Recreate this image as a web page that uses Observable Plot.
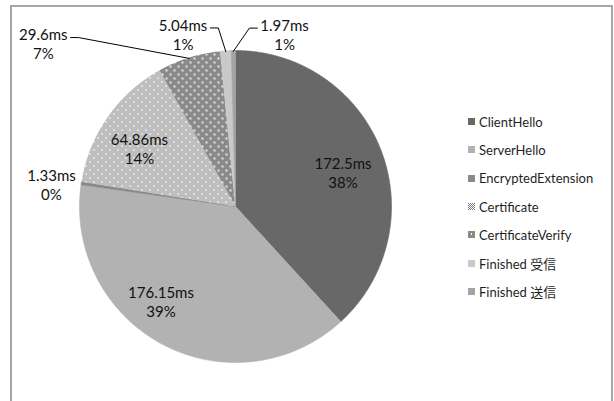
<!DOCTYPE html>
<html><head><meta charset="utf-8">
<script src="https://cdn.jsdelivr.net/npm/d3@7"></script>
<script src="https://cdn.jsdelivr.net/npm/@observablehq/plot@0.6"></script>
<style>
html,body{margin:0;padding:0;background:#fff;overflow:hidden;}
#wrap{position:relative;width:614px;height:401px;font-family:Lato,"Noto Sans CJK JP",sans-serif;}
#chart{position:absolute;left:0;top:0;}
#frame{position:absolute;left:10px;top:5px;width:603px;height:600px;box-sizing:border-box;border:2px solid #a6a6a6;pointer-events:none;}
#legend{position:absolute;left:468px;top:107.5px;}
.row{display:flex;align-items:center;height:28.33px;font-size:13px;color:#1f1f1f;white-space:nowrap;}
.row svg{margin-right:4px;flex:none;}
</style></head>
<body>
<svg width="0" height="0" style="position:absolute">
<defs>
 <pattern id="pChk" width="2" height="2" patternUnits="userSpaceOnUse">
   <rect width="2" height="2" fill="#fff"/><rect width="1" height="1" fill="#7c7c7c"/><rect x="1" y="1" width="1" height="1" fill="#7c7c7c"/>
 </pattern>
 <pattern id="pCert" width="8" height="8" patternUnits="userSpaceOnUse">
   <rect width="8" height="8" fill="url(#pChk)"/>
   <rect x="1" y="1" width="2" height="1" fill="#fff"/><rect x="5" y="5" width="2" height="1" fill="#fff"/>
 </pattern>
 <pattern id="pVerify" width="8" height="8" patternUnits="userSpaceOnUse">
   <rect width="8" height="8" fill="#8a8a8a"/>
   <rect x="1" y="1" width="2" height="2" fill="#e6e6e6"/><rect x="5" y="5" width="2" height="2" fill="#e6e6e6"/>
 </pattern>
</defs></svg>
<div id="wrap"><div id="chart"></div><div id="legend"></div><div id="frame"></div></div>
<script>
// ---- data ----
const categories = ["ClientHello","ServerHello","EncryptedExtension","Certificate","CertificateVerify","Finished 受信","Finished 送信"];
const values = [172.5, 176.15, 1.33, 64.86, 29.6, 5.04, 1.97];
const percentLabels = ["38%","39%","0%","14%","7%","1%","1%"];
const valueLabels = values.map(v => `${v}ms`);

// ---- styling / layout ----
const fills   = ["#686868","#b2b2b2","#8a8a8a","url(#pCert)","url(#pVerify)","#c9c9c9","#a3a3a3"];
const strokes = ["#686868","#b2b2b2","#8a8a8a","none","none","#c9c9c9","#a3a3a3"];
const cx = 235, cy = 206, R = 156;
const FONT = 'Lato, "Noto Sans CJK JP", sans-serif';
// label placement: [angle (deg, clockwise from 12 o'clock), distance in radii]
const labelAt = {
  "ClientHello": [72.2, 0.724],
  "ServerHello": [218.1, 0.774],
  "EncryptedExtension": [276.8, 1.188],
  "Certificate": [301.1, 0.719],
  "CertificateVerify": [310.3, 1.615],
  "Finished 受信": [343.1, 1.156],
  "Finished 送信": [15.9, 1.149]
};
const withLeader = new Set(["CertificateVerify","Finished 受信","Finished 送信"]);

const arcs = d3.pie().sort(null).value(d => d)(values);

const slices = arcs.map((p) => {
  const pts = [{x:0, y:0}];
  const n = Math.max(2, Math.ceil((p.endAngle - p.startAngle) / (Math.PI / 360)));
  for (let k = 0; k <= n; k++) {
    const a = p.startAngle + (p.endAngle - p.startAngle) * k / n;
    pts.push({x: Math.sin(a), y: Math.cos(a)});
  }
  pts.push({x:0, y:0});
  return pts;
});

const labels = categories.map((c, i) => {
  const [deg, r] = labelAt[c];
  const a = deg * Math.PI / 180;
  return {cat: c, x: r * Math.sin(a), y: r * Math.cos(a), text: `${valueLabels[i]}\n${percentLabels[i]}`};
});

const ctx = document.createElement("canvas").getContext("2d");
ctx.font = `15px ${FONT}`;
const leaders = [];
categories.forEach((c, i) => {
  if (!withLeader.has(c)) return;
  const p = arcs[i];
  const m = (p.startAngle + p.endAngle) / 2;
  const end = {x: 0.995 * Math.sin(m), y: 0.995 * Math.cos(m)};
  const L = labels[i];
  const w = ctx.measureText(valueLabels[i]).width;
  const side = L.x < end.x ? 1 : -1;
  const sx = L.x + side * (w / 2 + 3) / R;
  const sy = L.y + 6 / R;
  leaders.push({k: c, x: sx, y: sy});
  leaders.push({k: c, x: sx + side * 8 / R, y: sy});
  leaders.push({k: c, x: end.x, y: end.y});
});

const chart = Plot.plot({
  width: 614, height: 401, margin: 0,
  x: {domain: [-1, 1], range: [cx - R, cx + R], axis: null},
  y: {domain: [-1, 1], range: [cy + R, cy - R], axis: null},
  style: {background: "transparent", fontFamily: FONT},
  marks: [
    ...slices.map((pts, i) => Plot.line(pts, {x: "x", y: "y", fill: fills[i], stroke: strokes[i], strokeWidth: 0.6, curve: "linear"})),
    Plot.line(leaders, {x: "x", y: "y", z: "k", stroke: "#000", strokeWidth: 1}),
    Plot.text(labels, {x: "x", y: "y", text: "text", fontSize: 15, lineHeight: 1.27, fill: "#111", textAnchor: "middle"})
  ]
});
document.getElementById("chart").appendChild(chart);

const leg = d3.select("#legend");
categories.forEach((c, i) => {
  const row = leg.append("div").attr("class", "row");
  const s = row.append("svg").attr("width", 7).attr("height", 7);
  if (c === "Certificate") {
    s.append("rect").attr("width", 7).attr("height", 7).attr("fill", "url(#pChk)");
  } else if (c === "CertificateVerify") {
    s.append("rect").attr("width", 7).attr("height", 7).attr("fill", "#8a8a8a");
    s.append("rect").attr("x", 3).attr("y", 2).attr("width", 1).attr("height", 2).attr("fill", "#fff");
  } else {
    s.append("rect").attr("width", 7).attr("height", 7).attr("fill", fills[i]);
  }
  row.append("span").text(c);
});
</script>
</body></html>
